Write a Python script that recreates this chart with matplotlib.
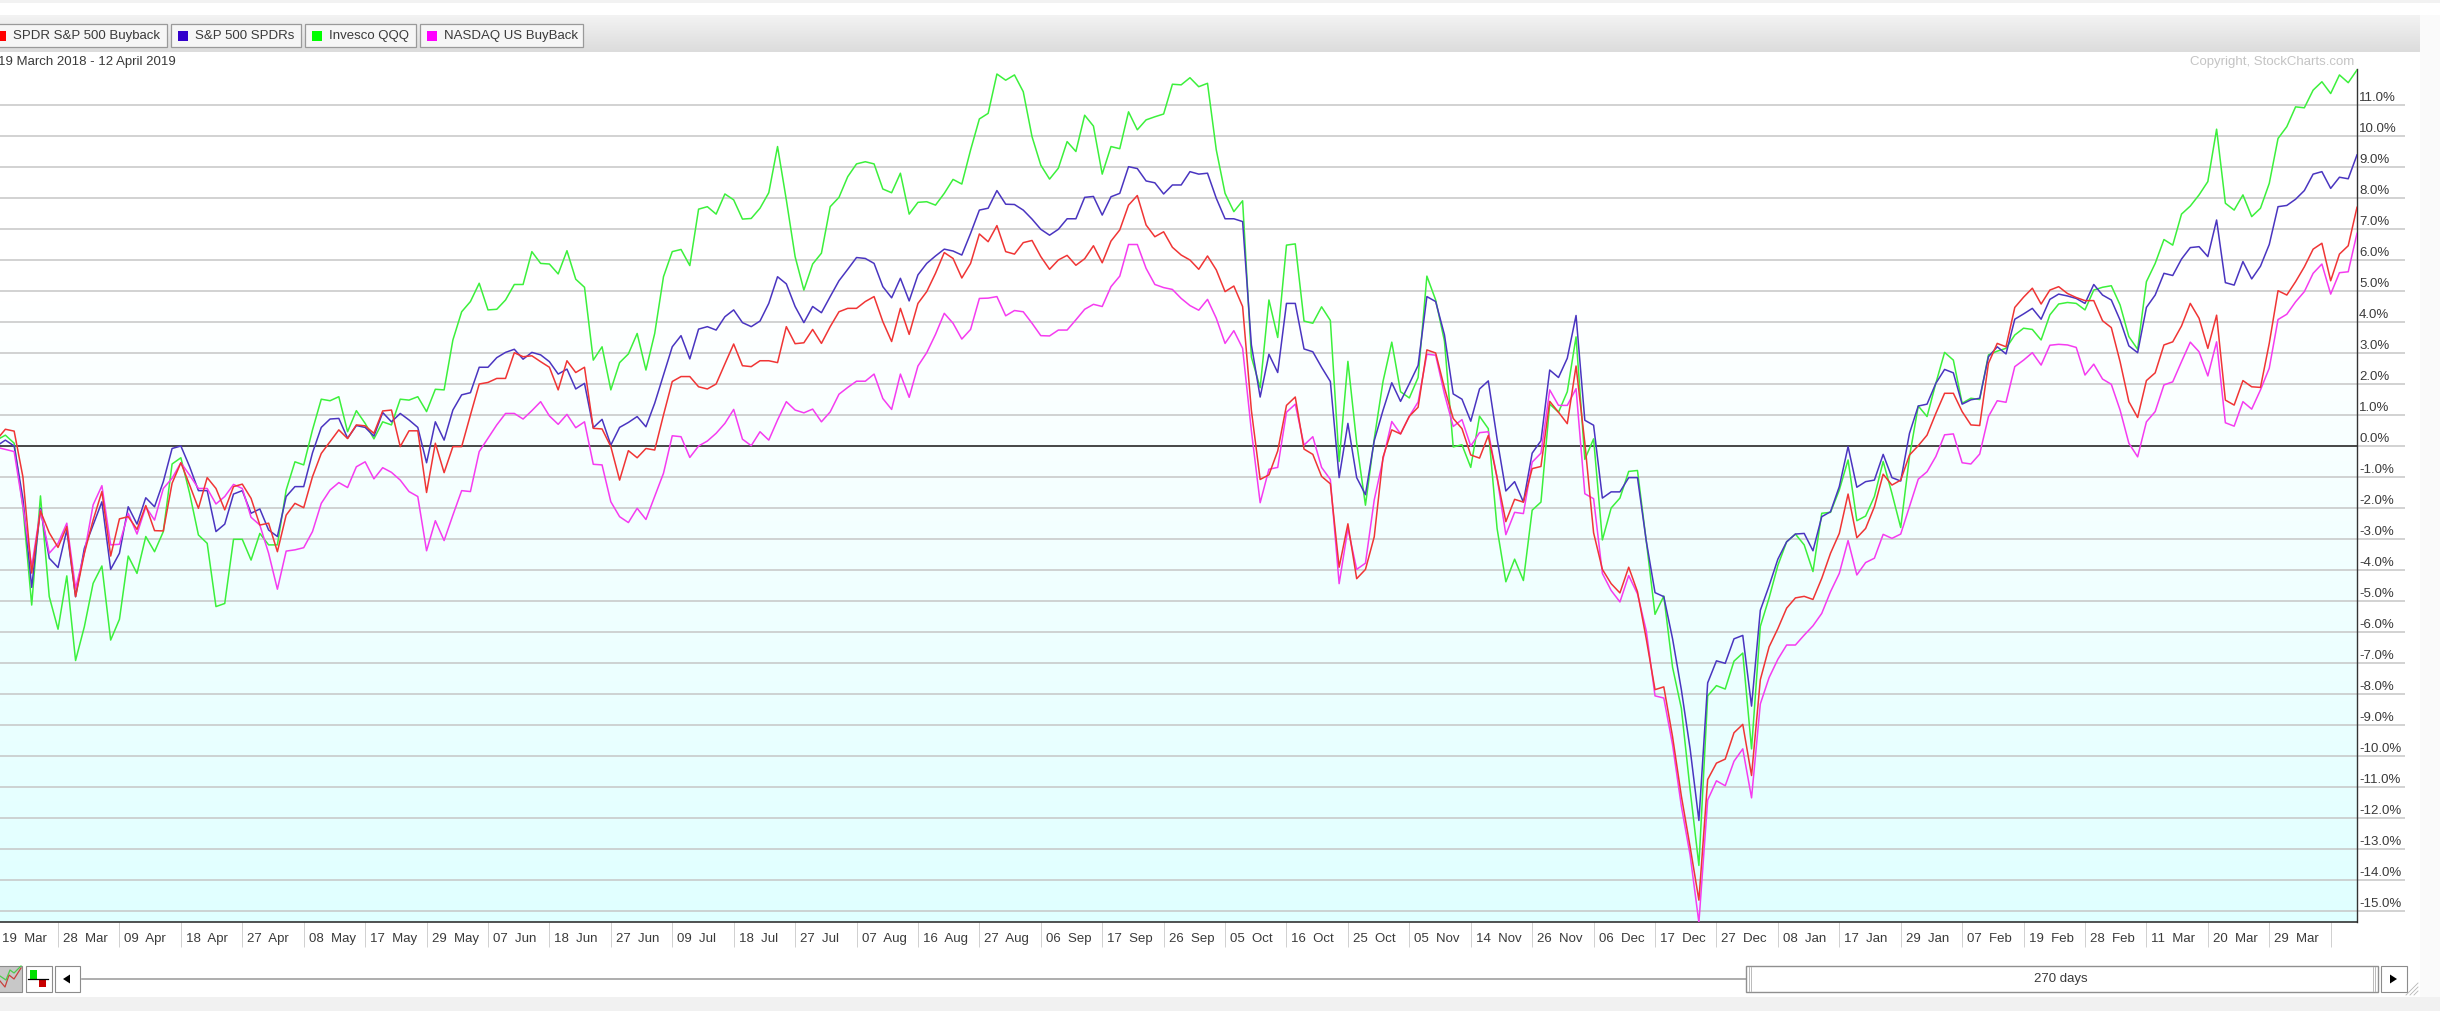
import numpy as np
import matplotlib
matplotlib.use("Agg")
import matplotlib.pyplot as plt
from matplotlib.patches import Rectangle, Polygon
from matplotlib.transforms import ScaledTranslation

# Values, percent change per trading day
spdr_buyback = [
    0.2, 0.54, 0.48, -1.0, -4.1, -2.1, -2.8, -3.27, -2.6, -4.86,
    -3.46, -2.39, -1.47, -3.55, -2.35, -2.28, -2.69, -1.92, -2.73, -2.74,
    -1.2, -0.54, -1.26, -2.01, -1.02, -1.37, -2.06, -1.31, -1.23, -1.69,
    -2.55, -2.49, -3.41, -2.23, -1.85, -1.99, -0.99, -0.24, 0.14, 0.52,
    0.24, 0.68, 0.65, 0.41, 1.13, 1.16, -0.02, 0.49, 0.49, -1.5,
    0.09, -0.86, -0.02, -0.02, 1.0, 2.0, 2.05, 2.18, 2.18, 3.01,
    2.88, 2.91, 2.72, 2.54, 1.81, 2.75, 2.37, 2.54, 0.57, 0.55,
    -0.02, -1.1, -0.15, -0.38, -0.08, -0.13, 1.0, 2.08, 2.24, 2.24,
    1.91, 1.84, 2.0, 2.65, 3.29, 2.59, 2.56, 2.75, 2.75, 2.69,
    3.85, 3.3, 3.33, 3.76, 3.31, 3.85, 4.33, 4.44, 4.44, 4.66,
    4.82, 4.01, 3.37, 4.44, 3.6, 4.6, 4.98, 5.57, 6.24, 6.05,
    5.42, 5.89, 6.84, 6.59, 7.11, 6.27, 6.19, 6.56, 6.63, 6.11,
    5.7, 6.0, 6.15, 5.83, 6.04, 6.46, 5.91, 6.61, 6.97, 7.77,
    8.08, 7.13, 6.75, 6.91, 6.41, 6.16, 6.0, 5.7, 6.13, 5.68,
    4.98, 5.16, 4.5, 1.15, -1.08, -0.93, -0.16, 1.31, 1.58, -0.1,
    -0.27, -0.98, -1.22, -3.91, -2.51, -4.28, -3.98, -2.93, -0.36, 0.52,
    0.39, 0.96, 1.25, 3.1, 3.0, 1.88, 0.89, 0.56, -0.29, -0.39,
    0.34, -1.02, -2.44, -1.72, -1.81, -0.73, -0.66, 1.44, 1.09, 0.72,
    2.58, 0.1, -2.8, -3.98, -4.44, -4.74, -3.91, -4.7, -6.22, -7.86,
    -7.77, -9.38, -11.29, -12.93, -14.65, -10.76, -10.23, -10.1, -9.25, -8.98,
    -10.63, -7.54, -6.48, -5.89, -5.23, -4.9, -4.85, -4.95, -4.27, -3.46,
    -2.82, -1.55, -2.96, -2.66, -1.96, -0.91, -1.26, -1.1, -0.29, 0.01,
    0.35, 1.05, 1.7, 1.7, 1.11, 0.68, 0.66, 2.67, 3.31, 3.2,
    4.47, 4.8, 5.09, 4.58, 5.03, 5.14, 4.92, 4.79, 4.69, 4.69,
    4.04, 3.82, 2.72, 1.43, 0.92, 2.11, 2.36, 3.26, 3.36, 3.87,
    4.6, 4.12, 3.15, 4.22, 1.48, 1.32, 2.11, 1.91, 1.89, 3.31,
    5.01, 4.87, 5.3, 5.78, 6.35, 6.54, 5.33, 6.19, 6.46, 7.7,
]

sp500_spdrs = [
    0.0, 0.19, 0.0, -1.7, -4.56, -2.01, -3.62, -3.92, -2.71, -4.86,
    -3.3, -2.55, -1.8, -3.98, -3.46, -1.96, -2.52, -1.67, -1.96, -1.15,
    -0.08, 0.0, -0.67, -1.44, -1.44, -2.76, -2.52, -1.55, -1.44, -2.17,
    -2.03, -2.71, -2.92, -1.63, -1.31, -1.31, -0.22, 0.6, 0.87, 0.89,
    0.25, 0.66, 0.6, 0.32, 1.08, 0.78, 1.05, 0.84, 0.6, -0.54,
    0.78, 0.19, 1.16, 1.65, 1.72, 2.54, 2.54, 2.85, 3.02, 3.12,
    2.8, 3.02, 2.94, 2.72, 2.32, 2.48, 1.84, 2.02, 0.59, 0.86,
    0.03, 0.6, 0.76, 0.95, 0.62, 1.38, 2.29, 3.2, 3.56, 2.81,
    3.77, 3.85, 3.74, 4.17, 4.39, 3.98, 3.85, 4.03, 4.6, 5.46,
    5.23, 4.5, 3.98, 4.5, 4.3, 4.82, 5.33, 5.7, 6.08, 6.05,
    5.89, 5.14, 4.78, 5.41, 4.68, 5.52, 5.89, 6.13, 6.35, 6.29,
    6.16, 6.86, 7.61, 7.67, 8.24, 7.8, 7.79, 7.61, 7.32, 6.99,
    6.8, 6.99, 7.33, 7.33, 8.02, 8.05, 7.45, 8.04, 8.15, 9.01,
    8.95, 8.55, 8.49, 8.13, 8.42, 8.42, 8.85, 8.77, 8.8, 7.99,
    7.33, 7.33, 7.24, 3.26, 1.58, 2.96, 2.37, 4.6, 4.6, 3.13,
    3.04, 2.54, 2.08, -1.02, 0.73, -1.02, -1.57, 0.17, 1.15, 2.04,
    1.44, 2.01, 2.6, 4.82, 4.66, 3.59, 1.68, 1.51, 0.8, 1.84,
    2.1, 0.23, -1.45, -1.15, -1.81, -0.23, 0.17, 2.45, 2.21, 2.83,
    4.21, 0.83, 0.67, -1.68, -1.48, -1.48, -1.02, -1.02, -3.06, -4.73,
    -4.86, -6.22, -7.86, -9.77, -12.08, -7.64, -6.93, -7.01, -6.22, -6.11,
    -8.39, -5.3, -4.51, -3.65, -3.09, -2.84, -2.82, -3.38, -2.28, -2.12,
    -1.31, -0.02, -1.33, -1.15, -1.1, -0.27, -1.02, -1.13, 0.41, 1.29,
    1.35, 2.02, 2.47, 2.36, 1.35, 1.49, 1.54, 2.88, 3.2, 2.97,
    4.09, 4.26, 4.44, 4.09, 4.73, 4.9, 4.84, 4.76, 4.6, 5.21,
    4.87, 4.71, 4.06, 3.23, 3.01, 4.47, 4.87, 5.57, 5.5, 6.03,
    6.4, 6.43, 6.11, 7.29, 5.27, 5.19, 5.95, 5.39, 5.8, 6.5,
    7.72, 7.76, 7.96, 8.24, 8.77, 8.85, 8.31, 8.67, 8.62, 9.39,
]

invesco_qqq = [
    0.19, 0.35, 0.09, -1.96, -5.13, -1.61, -4.86, -5.91, -4.19, -6.92,
    -5.83, -4.43, -3.87, -6.26, -5.59, -3.55, -4.11, -2.92, -3.41, -2.76,
    -0.58, -0.38, -1.53, -2.87, -3.14, -5.18, -5.08, -3.01, -3.01, -3.68,
    -2.82, -3.19, -3.19, -1.42, -0.51, -0.61, 0.52, 1.51, 1.46, 1.59,
    0.46, 1.14, 0.73, 0.23, 0.78, 0.68, 1.51, 1.48, 1.59, 1.11,
    1.83, 1.81, 3.42, 4.33, 4.66, 5.25, 4.39, 4.41, 4.71, 5.21,
    5.21, 6.27, 5.89, 5.87, 5.55, 6.3, 5.38, 5.12, 2.77, 3.2,
    1.81, 2.69, 2.97, 3.63, 2.45, 3.63, 5.46, 6.27, 6.34, 5.82,
    7.64, 7.72, 7.48, 8.13, 7.94, 7.32, 7.34, 7.67, 8.17, 9.66,
    7.94, 6.11, 5.03, 5.87, 6.22, 7.72, 8.02, 8.69, 9.1, 9.17,
    9.1, 8.29, 8.17, 8.8, 7.48, 7.86, 7.88, 7.77, 8.15, 8.6,
    8.45, 9.55, 10.55, 10.73, 12.0, 11.8, 11.97, 11.43, 9.98, 9.06,
    8.61, 8.96, 9.82, 9.5, 10.67, 10.32, 8.77, 9.66, 9.59, 10.78,
    10.2, 10.52, 10.62, 10.71, 11.67, 11.65, 11.88, 11.59, 11.7, 9.55,
    8.15, 7.56, 7.91, 2.87, 1.88, 4.71, 3.5, 6.48, 6.52, 4.03,
    3.96, 4.49, 4.05, -0.5, 2.73, 0.1, -1.91, 0.23, 2.08, 3.35,
    1.75, 1.55, 2.21, 5.48, 4.71, 3.39, -0.03, 0.04, -0.69, 0.96,
    0.56, -2.66, -4.38, -3.65, -4.34, -2.07, -1.81, 1.35, 1.09, 1.75,
    3.52, -0.43, 0.23, -3.03, -2.0, -1.68, -0.82, -0.79, -3.06, -5.43,
    -4.84, -7.14, -8.46, -11.09, -13.53, -8.06, -7.73, -7.84, -6.94, -6.68,
    -9.77, -5.82, -4.9, -3.85, -3.09, -2.84, -3.19, -4.05, -2.17, -2.14,
    -1.42, -0.45, -2.41, -2.26, -1.63, -0.5, -1.53, -2.63, -0.34, 1.29,
    0.95, 2.02, 3.02, 2.77, 1.38, 1.54, 1.5, 2.94, 3.06, 3.15,
    3.58, 3.8, 3.76, 3.42, 4.23, 4.58, 4.63, 4.6, 4.39, 5.03,
    5.12, 5.17, 4.55, 3.53, 3.12, 5.3, 5.89, 6.66, 6.48, 7.48,
    7.74, 8.1, 8.53, 10.22, 7.83, 7.61, 8.1, 7.4, 7.67, 8.47,
    9.92, 10.3, 10.94, 10.91, 11.48, 11.75, 11.37, 11.97, 11.72, 12.13,
]

nasdaq_buyback = [
    -0.04, -0.11, -0.18, -1.96, -3.89, -2.06, -3.46, -3.14, -2.49, -4.59,
    -3.46, -1.9, -1.28, -3.19, -3.17, -2.17, -2.84, -1.96, -2.39, -1.37,
    -1.04, -0.54, -0.94, -1.37, -1.37, -1.87, -1.63, -1.24, -1.37, -2.3,
    -2.55, -3.46, -4.62, -3.39, -3.35, -3.28, -2.76, -1.85, -1.42, -1.18,
    -1.34, -0.67, -0.51, -1.06, -0.7, -0.85, -1.1, -1.47, -1.63, -3.38,
    -2.41, -3.05, -2.23, -1.44, -1.47, -0.18, 0.25, 0.68, 1.05, 1.05,
    0.87, 1.14, 1.43, 0.97, 0.7, 1.02, 0.59, 0.78, -0.59, -0.61,
    -1.8, -2.28, -2.47, -2.01, -2.37, -1.63, -0.88, 0.33, 0.3, -0.37,
    0.0, 0.16, 0.41, 0.73, 1.18, 0.22, 0.01, 0.46, 0.19, 0.84,
    1.43, 1.16, 1.07, 1.19, 0.78, 1.1, 1.67, 1.89, 2.09, 2.09,
    2.32, 1.53, 1.18, 2.32, 1.57, 2.58, 3.01, 3.6, 4.28, 3.96,
    3.45, 3.76, 4.76, 4.77, 4.82, 4.2, 4.37, 4.33, 3.96, 3.56,
    3.55, 3.74, 3.74, 4.07, 4.41, 4.57, 4.5, 5.14, 5.48, 6.5,
    6.5, 5.73, 5.21, 5.11, 5.05, 4.76, 4.53, 4.38, 4.73, 4.12,
    3.31, 3.72, 3.15, 0.49, -1.83, -0.75, -0.69, 1.09, 1.35, 0.03,
    0.3, -0.69, -1.08, -4.44, -2.66, -3.98, -3.78, -1.74, -0.43, 0.79,
    0.39, 0.96, 1.42, 2.96, 2.93, 1.68, 0.63, 0.85, 0.0, 0.43,
    0.46, -1.02, -2.86, -2.14, -2.18, -0.52, -0.23, 1.81, 1.31, 1.31,
    1.85, -1.54, -1.7, -4.11, -4.66, -5.03, -4.18, -4.77, -5.96, -8.06,
    -8.13, -9.64, -11.62, -13.2, -15.37, -11.42, -10.8, -10.96, -10.17, -9.77,
    -11.35, -8.32, -7.47, -6.88, -6.42, -6.42, -6.1, -5.8, -5.4, -4.7,
    -4.11, -3.05, -4.16, -3.76, -3.62, -2.85, -2.98, -2.84, -1.96, -1.07,
    -0.83, -0.34, 0.36, 0.39, -0.54, -0.58, -0.26, 0.95, 1.46, 1.41,
    2.56, 2.77, 3.01, 2.61, 3.25, 3.28, 3.26, 3.18, 2.29, 2.64,
    2.16, 1.99, 1.16, 0.09, -0.35, 0.78, 1.11, 1.97, 2.07, 2.72,
    3.35, 3.04, 2.26, 3.36, 0.75, 0.64, 1.43, 1.19, 1.81, 2.51,
    4.08, 4.25, 4.65, 4.98, 5.57, 5.87, 4.9, 5.59, 5.62, 6.86,
]

date_labels = ["19  Mar", "28  Mar", "09  Apr", "18  Apr", "27  Apr", "08  May", "17  May", "29  May",
               "07  Jun", "18  Jun", "27  Jun", "09  Jul", "18  Jul", "27  Jul", "07  Aug", "16  Aug",
               "27  Aug", "06  Sep", "17  Sep", "26  Sep", "05  Oct", "16  Oct", "25  Oct", "05  Nov",
               "14  Nov", "26  Nov", "06  Dec", "17  Dec", "27  Dec", "08  Jan", "17  Jan", "29  Jan",
               "07  Feb", "19  Feb", "28  Feb", "11  Mar", "20  Mar", "29  Mar", ""]
pct_ticks = [-15, -14, -13, -12, -11, -10, -9, -8, -7, -6, -5, -4, -3, -2, -1,
             0, 1, 2, 3, 4, 5, 6, 7, 8, 9, 10, 11]
legend_names = ["SPDR S&P 500 Buyback", "S&P 500 SPDRs", "Invesco QQQ", "NASDAQ US BuyBack"]
legend_colors = ["#ff0000", "#3300cc", "#00ff00", "#ff00ff"]

W, H = 2440, 1011
DPI = 100
FONT = "Liberation Sans"
TXT = "#3a3a3a"


def box(ax, x0, y0, x1, y1, face="white", edge="none", lw=0.8, z=2):
    ax.add_patch(Rectangle((x0, y0), x1 - x0, y1 - y0, facecolor=face, edgecolor=edge, linewidth=lw, zorder=z))


# The StockCharts window around the plot, in pixel coordinates
def draw_frame(bg):
    bg.set_xlim(0, W)
    bg.set_ylim(H, 0)
    bg.axis("off")

    box(bg, 0, 0, W, H, face="#fafafa", z=0)
    box(bg, 0, 0, W, 3, face="#f2f2f2", z=1)
    box(bg, 0, 3, W, 15, face="white", z=1)
    box(bg, 0, 15, 2420, 997, face="white", z=1)
    box(bg, 0, 997, W, H, face="#f1f1f1", z=1)

    # header strip and plot background gradients
    header = np.linspace(0, 1, 64).reshape(-1, 1)
    bg.imshow(header, extent=(0, 2420, 52, 15), aspect="auto", zorder=2, vmin=0, vmax=1,
              cmap=matplotlib.colors.LinearSegmentedColormap.from_list("hdr", ["#f3f3f3", "#dcdcdc"]))
    grad = np.linspace(0, 1, 256).reshape(-1, 1)
    bg.imshow(grad, extent=(0, 2357, 922, 300), aspect="auto", zorder=2, vmin=0, vmax=1,
              cmap=matplotlib.colors.LinearSegmentedColormap.from_list("plot", ["#ffffff", "#e0ffff"]))
    bg.set_xlim(0, W)
    bg.set_ylim(H, 0)

    # legend buttons
    edges = [(-11, 167), (171, 301), (305, 416), (420, 583)]
    for (x0, x1), name, col in zip(edges, legend_names, legend_colors):
        box(bg, x0, 24, x1, 47, face="#f6f6f6", edge="#9a9a9a", lw=0.9, z=3)
        box(bg, x0 + 7, 31, x0 + 17, 41, face=col, z=4)
        bg.text(x0 + 24, 36, name, fontsize=9.5, family=FONT, color=TXT, va="center", ha="left", zorder=4)

    bg.text(-2, 62, "19 March 2018 - 12 April 2019", fontsize=9.5, family=FONT, color=TXT, va="center", zorder=4)
    bg.text(2354, 62, "Copyright, StockCharts.com", fontsize=9.5, family=FONT, color="#c4c4c4",
            va="center", ha="right", zorder=4)

    # scroll bar controls at the bottom
    box(bg, -2, 966, 22, 992, face="#c8c8c8", edge="#8c8c8c", z=3)
    bg.plot([0, 5, 9, 14, 21], [981, 987, 975, 979, 968], color="#c8403c", lw=0.9, zorder=4)
    bg.plot([0, 6, 10, 14, 21], [976, 980, 970, 973, 966], color="#4ccc4c", lw=0.9, zorder=4)
    box(bg, 25.5, 966, 51.5, 992, face="white", edge="#8c8c8c", z=3)
    box(bg, 30, 970, 37, 979, face="#00e000", z=4)
    box(bg, 39, 979, 46, 987, face="#c80000", z=4)
    bg.plot([28, 48], [979, 979], color="black", lw=0.9, zorder=5)
    box(bg, 54.5, 966, 80, 992, face="white", edge="#8c8c8c", z=3)
    bg.add_patch(Polygon([[63, 979], [70, 974.5], [70, 983.5]], facecolor="black", zorder=4))
    bg.plot([82, 1746], [979, 979], color="#a0a0a0", lw=1.2, zorder=3)
    box(bg, 1746, 966, 2378, 992, face="white", edge="#909090", lw=1.0, z=3)
    for xv in (1749, 1751, 2373, 2375):
        bg.plot([xv, xv], [967, 991], color="#b0b0b0", lw=0.6, zorder=4)
    bg.text(2061, 979, "270 days", fontsize=9.5, family=FONT, color=TXT, ha="center", va="center", zorder=4)
    box(bg, 2381, 966, 2407, 992, face="white", edge="#8c8c8c", z=3)
    bg.add_patch(Polygon([[2397, 979], [2390, 974.5], [2390, 983.5]], facecolor="black", zorder=4))
    for k in range(3):
        bg.plot([2406 + k * 4, 2418], [995, 983 + k * 4], color="#b8b8b8", lw=0.6, zorder=4)


def main():
    fig = plt.figure(figsize=(W / DPI, H / DPI), dpi=DPI)
    bg = fig.add_axes([0, 0, 1, 1])
    draw_frame(bg)

    # first trading day sits just left of the image edge
    left, right, top, bottom = -3.4, 2357, 52, 922
    ax = fig.add_axes([left / W, 1 - bottom / H, (right - left) / W, (bottom - top) / H])
    ax.patch.set_alpha(0)
    days = np.arange(len(spdr_buyback))
    ax.set_xlim(0, 269)
    ax.set_ylim((446 - bottom) / 31, (446 - top) / 31)

    # gridlines run on past the axis, under the percent labels
    grid_vals = [v for v in pct_ticks if v != 0]
    ax.hlines(grid_vals + [0], 0, 1.0204, transform=ax.get_yaxis_transform(), color="#c6c6c6",
              lw=1.1, clip_on=False, zorder=1)
    ax.axhline(0, color="#222222", lw=1.1, zorder=2)

    ax.plot(days, invesco_qqq, color="#3cf03c", lw=1.1, zorder=3)
    ax.plot(days, sp500_spdrs, color="#4a35c0", lw=1.1, zorder=4)
    ax.plot(days, nasdaq_buyback, color="#f53cf0", lw=1.1, zorder=5)
    ax.plot(days, spdr_buyback, color="#f03535", lw=1.1, zorder=6)

    for name in ("top", "left"):
        ax.spines[name].set_visible(False)
    ax.spines["bottom"].set_color("#222222")
    ax.spines["bottom"].set_linewidth(1.1)
    ax.spines["right"].set_color("#333333")
    ax.spines["right"].set_linewidth(1.0)
    ax.spines["right"].set_bounds((446 - bottom) / 31, 12.16)

    ax.set_xticks(np.arange(0, 270, 7))
    ax.set_xticklabels(date_labels, fontsize=9.5, family=FONT, color=TXT, ha="left")
    ax.tick_params(axis="x", length=18, width=0.7, color="#d0d0d0", pad=-10)
    shift = ScaledTranslation(5 / DPI, 0, fig.dpi_scale_trans)
    for lbl in ax.get_xticklabels():
        lbl.set_transform(lbl.get_transform() + shift)

    ax.yaxis.tick_right()
    ax.set_yticks(pct_ticks)
    ax.set_yticklabels(["%.1f%%" % v for v in pct_ticks], fontsize=9.5, family=FONT, color=TXT, va="center")
    ax.tick_params(axis="y", length=0, pad=1.5)
    lift = ScaledTranslation(0, 7 / DPI, fig.dpi_scale_trans)
    for lbl in ax.get_yticklabels():
        lbl.set_transform(lbl.get_transform() + lift)

    fig.savefig("out.png", dpi=DPI)


if __name__ == "__main__":
    main()
